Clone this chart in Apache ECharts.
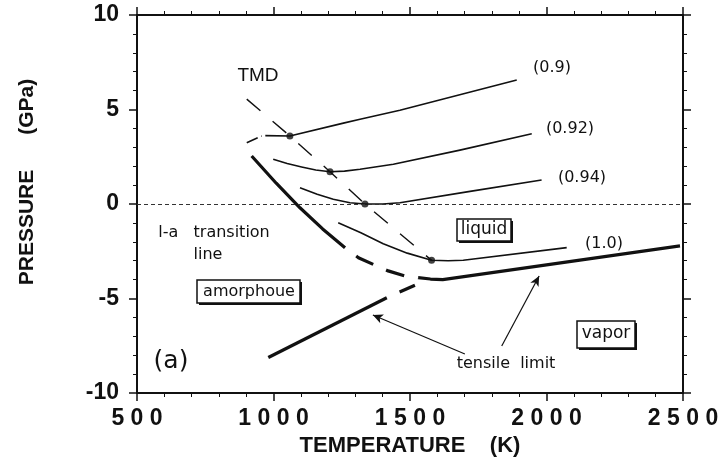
<!DOCTYPE html>
<html><head><meta charset="utf-8">
<script src="https://cdn.jsdelivr.net/npm/echarts@6/dist/echarts.min.js"></script>
<style>html,body{margin:0;padding:0;background:#fff}#c{width:724px;height:466px}</style>
</head><body><div id="c"></div>
<script>
// ---- data (temperature K, pressure GPa) ----
const xTickValues = [500, 1000, 1500, 2000, 2500];
const yTickValues = [-10, -5, 0, 5, 10];
const iso090Dash = [[902, 3.24], [957, 3.6]];
const iso090 = [[970, 3.62], [1060, 3.6], [1256, 4.28], [1317, 4.48], [1463, 4.96], [1891, 6.56]];
const iso092 = [[999, 2.37], [1050, 2.14], [1103, 1.96], [1155, 1.8], [1207, 1.71], [1260, 1.74], [1317, 1.84], [1439, 2.1], [1683, 2.85], [1946, 3.72]];
const iso094 = [[1097, 0.86], [1160, 0.52], [1219, 0.25], [1280, 0.07], [1335, 0.0], [1400, 0.0], [1463, 0.07], [1720, 0.67], [1982, 1.27]];
const iso100 = [[1237, -0.99], [1320, -1.52], [1402, -2.1], [1490, -2.6], [1579, -2.98], [1640, -3.0], [1695, -2.98], [2074, -2.31]];
const spinodalSolidA = [[920, 2.54], [1010, 1.1], [1097, -0.2], [1180, -1.32], [1262, -2.31]];
const spinodalDashed = [[1262, -2.31], [1311, -2.84], [1378, -3.28], [1420, -3.54], [1482, -3.81], [1530, -3.9]];
const spinodalSolidB = [[1530, -3.9], [1575, -3.97], [1620, -4.0], [2000, -3.22], [2489, -2.22]];
const tensileSolid = [[981, -8.12], [1415, -4.96]];
const tensileDashed = [[1415, -4.96], [1518, -4.3]];
const tmdLine = [[902, 5.55], [1060, 3.6], [1207, 1.71], [1335, 0.0], [1579, -2.98]];
const tmdPoints = [[1060, 3.6], [1207, 1.71], [1335, 0.0], [1579, -2.98]];
const arrowFrom = [[1701, -7.94], [1836, -7.51]];
const arrowTo = [[1364, -5.87], [1973, -3.81]];
const isochoreLabels = ['(0.9)', '(0.92)', '(0.94)', '(1.0)'];

const chart = echarts.init(document.getElementById('c'), null, {renderer: 'canvas'});
const black = '#111';
const thin = 1.6, thick = 3.2;
function line(data, width, type, extra) {
  return Object.assign({
    type: 'line', data: data, showSymbol: false, symbol: 'none', silent: true,
    smooth: false,
    lineStyle: {color: black, width: width, type: type || 'solid', join: 'round', cap: 'butt'}
  }, extra || {});
}
const axisCommon = {
  type: 'value', splitLine: {show: false},
  axisLine: {show: true, onZero: false, lineStyle: {color: black, width: 2}},
  axisTick: {show: true, inside: false, length: 8, lineStyle: {color: black, width: 1.5}},
  minorTick: {show: true, splitNumber: 5, length: 4, lineStyle: {color: black, width: 1}},
  minorSplitLine: {show: false}
};
const labelFont = {fontFamily: 'Liberation Sans, Arial, sans-serif', fontWeight: 'bold', fontSize: 23, color: black};
const small = 'DejaVu Sans, sans-serif';

chart.setOption({
  animation: false,
  backgroundColor: '#fff',
  grid: {left: 137, right: 41, top: 15, bottom: 73},
  xAxis: [
    Object.assign({}, axisCommon, {
      min: xTickValues[0], max: xTickValues[xTickValues.length - 1], interval: 500, position: 'bottom',
      axisLabel: Object.assign({margin: 14, formatter: v => String(v).split('').join(' ')}, labelFont),
      name: 'TEMPERATURE    (K)', nameLocation: 'middle', nameGap: 30,
      nameTextStyle: {fontFamily: 'Liberation Sans, Arial, sans-serif', fontWeight: 'bold', fontSize: 22, color: black}
    }),
    Object.assign({}, axisCommon, {
      min: xTickValues[0], max: xTickValues[xTickValues.length - 1], interval: 500, position: 'top',
      axisLabel: {show: false}
    })
  ],
  yAxis: [
    Object.assign({}, axisCommon, {
      min: yTickValues[0], max: yTickValues[yTickValues.length - 1], interval: 5, position: 'left',
      axisLabel: Object.assign({margin: 18}, labelFont),
      name: 'PRESSURE      (GPa)', nameLocation: 'middle', nameGap: 99,
      nameTextStyle: {fontFamily: 'Liberation Sans, Arial, sans-serif', fontWeight: 'bold', fontSize: 21, color: black, padding: [0, 0, 0, 44]}
    }),
    Object.assign({}, axisCommon, {
      min: yTickValues[0], max: yTickValues[yTickValues.length - 1], interval: 5, position: 'right',
      axisLabel: {show: false}
    })
  ],
  series: [
    line(iso090Dash, thin, [12, 4]),
    line(iso090, thin),
    line(iso092, thin),
    line(iso094, thin),
    line(iso100, thin),
    line(spinodalSolidA, thick),
    line(spinodalDashed, thick, [19, 14], {lineStyle: {color: black, width: thick, type: [19, 14], dashOffset: 19}}),
    line(spinodalSolidB, thick),
    line(tensileSolid, thick, 'solid', {
      markLine: {
        silent: true, symbol: ['none', 'arrow'], symbolSize: [7, 10], label: {show: false},
        lineStyle: {color: black, width: 1.2, type: 'solid'},
        data: arrowFrom.map((p, i) => [{coord: p}, {coord: arrowTo[i]}])
      }
    }),
    line(tensileDashed, thick, [17, 14], {lineStyle: {color: black, width: thick, type: [17, 14], dashOffset: 17}}),
    line(tmdLine, 1.4, [18, 16], {
      markLine: {
        silent: true, symbol: ['none', 'none'], label: {show: false},
        lineStyle: {color: '#333', width: 1, type: [4, 3]},
        data: [{yAxis: 0}]
      }
    }),
    {type: 'scatter', data: tmdPoints, symbol: 'circle', symbolSize: 7, silent: true,
     itemStyle: {color: black}}
  ],
  graphic: [
    {type: 'text', x: 258, y: 76, style: {text: 'TMD', fontFamily: 'Liberation Sans, Arial, sans-serif', fontSize: 19, fill: black, align: 'center', verticalAlign: 'middle'}},
    {type: 'text', x: 552, y: 68, style: {text: isochoreLabels[0], fontFamily: small, fontSize: 16, fill: black, align: 'center', verticalAlign: 'middle'}},
    {type: 'text', x: 570, y: 129, style: {text: isochoreLabels[1], fontFamily: small, fontSize: 16, fill: black, align: 'center', verticalAlign: 'middle'}},
    {type: 'text', x: 582, y: 178, style: {text: isochoreLabels[2], fontFamily: small, fontSize: 16, fill: black, align: 'center', verticalAlign: 'middle'}},
    {type: 'text', x: 604, y: 244, style: {text: isochoreLabels[3], fontFamily: small, fontSize: 16, fill: black, align: 'center', verticalAlign: 'middle'}},
    {type: 'text', x: 214, y: 233, style: {text: 'l-a   transition', fontFamily: small, fontSize: 16, fill: black, align: 'center', verticalAlign: 'middle'}},
    {type: 'text', x: 208, y: 255, style: {text: 'line', fontFamily: small, fontSize: 16, fill: black, align: 'center', verticalAlign: 'middle'}},
    {type: 'text', x: 506, y: 364, style: {text: 'tensile  limit', fontFamily: small, fontSize: 16, fill: black, align: 'center', verticalAlign: 'middle'}},
    {type: 'text', x: 171, y: 361, style: {text: '(a)', fontFamily: small, fontSize: 25, fill: black, align: 'center', verticalAlign: 'middle'}},
    {type: 'rect', shape: {x: 199, y: 282, width: 103, height: 23}, style: {fill: black}},
    {type: 'rect', shape: {x: 197, y: 280, width: 103, height: 23}, style: {fill: '#fff', stroke: black, lineWidth: 1.5}},
    {type: 'text', x: 249, y: 292, style: {text: 'amorphoue', fontFamily: small, fontSize: 16, fill: black, align: 'center', verticalAlign: 'middle'}},
    {type: 'rect', shape: {x: 459, y: 221, width: 54, height: 22}, style: {fill: black}},
    {type: 'rect', shape: {x: 457, y: 219, width: 54, height: 22}, style: {fill: '#fff', stroke: black, lineWidth: 1.5}},
    {type: 'text', x: 484, y: 230, style: {text: 'liquid', fontFamily: small, fontSize: 17, fill: black, align: 'center', verticalAlign: 'middle'}},
    {type: 'rect', shape: {x: 579, y: 323, width: 58, height: 27}, style: {fill: black}},
    {type: 'rect', shape: {x: 577, y: 321, width: 58, height: 27}, style: {fill: '#fff', stroke: black, lineWidth: 1.5}},
    {type: 'text', x: 606, y: 334, style: {text: 'vapor', fontFamily: small, fontSize: 17, fill: black, align: 'center', verticalAlign: 'middle'}}
  ]
});
</script></body></html>
